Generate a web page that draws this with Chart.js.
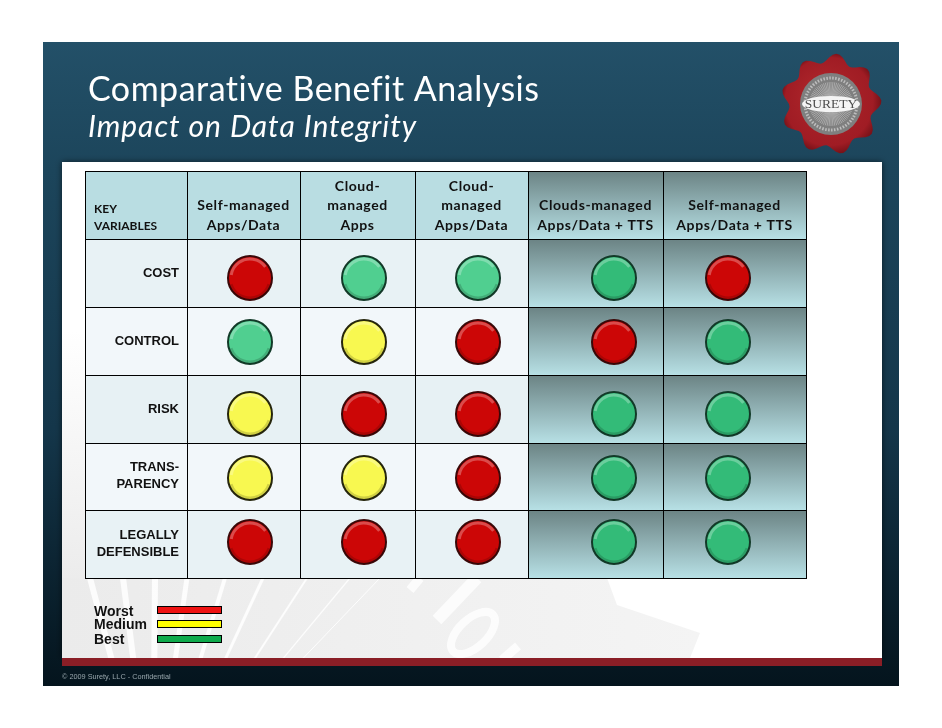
<!DOCTYPE html>
<html>
<head>
<meta charset="utf-8">
<title>Comparative Benefit Analysis</title>
<script src="https://cdn.jsdelivr.net/npm/chart.js@4/dist/chart.umd.js"></script>
<style>
  html, body { margin: 0; background: #fff; }
  canvas { display: block; }
</style>
</head>
<body>
<canvas id="chart" width="942" height="728"></canvas>
<script>
// Chart values
const columns = ["Self-managed Apps/Data", "Cloud-managed Apps", "Cloud-managed Apps/Data", "Clouds-managed Apps/Data + TTS", "Self-managed Apps/Data + TTS"];
const columnLines = [["Self-managed", "Apps/Data"], ["Cloud-", "managed", "Apps"], ["Cloud-", "managed", "Apps/Data"], ["Clouds-managed", "Apps/Data + TTS"], ["Self-managed", "Apps/Data + TTS"]];
const variables = ["COST", "CONTROL", "RISK", "TRANS-PARENCY", "LEGALLY DEFENSIBLE"];
const variableLines = [["COST"], ["CONTROL"], ["RISK"], ["TRANS-", "PARENCY"], ["LEGALLY", "DEFENSIBLE"]];
const levels = ["Worst", "Medium", "Best"];
const cost = ["Worst", "Best", "Best", "Best", "Worst"];
const control = ["Best", "Medium", "Worst", "Worst", "Best"];
const risk = ["Medium", "Worst", "Worst", "Best", "Best"];
const transparency = ["Medium", "Medium", "Worst", "Best", "Best"];
const legally = ["Worst", "Worst", "Worst", "Best", "Best"];
const ratings = [cost, control, risk, transparency, legally];

// Layout of the slide, in page pixels
const columnEdges = [85, 187, 300, 415, 528, 663, 806];
const rowEdges = [171, 239, 307, 375, 443, 510, 578];
const markPx = { x: [250, 364, 478, 614, 728], y: [278, 342, 414, 478, 542] };
const labelPx = { x: [243.5, 357.5, 471.5, 595.5, 734.5], y: [273, 341, 409, 476, 544] };
const rowTints = ["#b9dde2", "#e8f2f5", "#f2f7fa", "#e7f1f4", "#f2f7fa", "#e8f2f5"];
const markFill = { Worst: "#cc0606", Medium: "#f8f850", Best: "#50cf90" };
const markEdge = { Worst: "#3a0808", Medium: "#26260c", Best: "#123a28" };
const legendFill = { Worst: "#ee1111", Medium: "#ffff00", Best: "#0eaa4c" };
const legendRows = [{ text: 616, box: 606 }, { text: 629, box: 620 }, { text: 644, box: 635 }];

// Category scale whose columns and rows are not evenly spaced
class TableScale extends Chart.CategoryScale {
    getPixelForValue(value) {
        if (typeof value !== "number") value = this.parse(value);
        return markPx[this.axis][value];
    }
    getPixelForTick(index) {
        return labelPx[this.axis][index];
    }
    drawLabels(area) {
        // only the column headers are spaced out
        this.ctx.letterSpacing = this.axis === "x" ? "0.6px" : "0px";
        super.drawLabels(area);
        this.ctx.letterSpacing = "0px";
    }
}
TableScale.id = "table";
TableScale.defaults = {};
Chart.register(TableScale);

// One dataset for each level, with a point wherever a cell has that rating
function pointsFor(level) {
    const points = [];
    ratings.forEach((row, r) => row.forEach((rating, c) => {
        if (rating === level) points.push({ x: columns[c], y: variables[r] });
    }));
    return points;
}

function drawSlide(ctx) {
    const bg = ctx.createLinearGradient(0, 42, 0, 686);
    bg.addColorStop(0, "#235068");
    bg.addColorStop(0.2, "#1c455b");
    bg.addColorStop(0.6, "#14364a");
    bg.addColorStop(1, "#04141d");
    ctx.fillStyle = bg;
    ctx.fillRect(43, 42, 856, 644);

    // White panel with its shadow and the red band
    ctx.save();
    ctx.shadowColor = "rgba(0,0,0,0.6)";
    ctx.shadowBlur = 6;
    ctx.fillStyle = "#fff";
    ctx.fillRect(62, 162, 820, 496);
    ctx.restore();
    ctx.fillStyle = "#8a1e26";
    ctx.fillRect(62, 658, 820, 8);

    // Watermark in the lower left of the panel
    ctx.save();
    ctx.beginPath();
    ctx.rect(62, 162, 820, 496);
    ctx.clip();
    const wash = ctx.createLinearGradient(0, 330, 0, 578);
    wash.addColorStop(0, "#ffffff");
    wash.addColorStop(1, "#ececec");
    ctx.fillStyle = wash;
    ctx.fillRect(62, 330, 24, 250);
    const floor = ctx.createLinearGradient(62, 0, 700, 0);
    floor.addColorStop(0, "#ebebeb");
    floor.addColorStop(1, "#f4f4f4");
    ctx.fillStyle = floor;
    ctx.beginPath();
    ctx.moveTo(62, 578);
    ctx.lineTo(607, 578);
    ctx.lineTo(617, 605);
    ctx.lineTo(700, 633);
    ctx.lineTo(690, 658);
    ctx.lineTo(62, 658);
    ctx.closePath();
    ctx.fill();
    ctx.strokeStyle = "rgba(255,255,255,0.85)";
    [[90, 6], [123, 6], [155, 6], [187, 5], [225, 4], [263, 3], [307, 2], [350, 1.2], [380, 1]].forEach(([x, w]) => {
        ctx.lineWidth = w;
        ctx.beginPath();
        ctx.moveTo(x, 578);
        ctx.lineTo(153 + (x - 153) * 0.3, 815 - 237 * 0.3);
        ctx.stroke();
    });
    ctx.strokeStyle = "rgba(255,255,255,0.8)";
    ctx.lineWidth = 12;
    ctx.beginPath();
    ctx.moveTo(477, 578);
    ctx.lineTo(437, 620);
    ctx.stroke();
    ctx.lineWidth = 9;
    ctx.beginPath();
    ctx.moveTo(420, 578);
    ctx.lineTo(410, 590);
    ctx.stroke();
    ctx.beginPath();
    ctx.moveTo(518, 646);
    ctx.lineTo(502, 660);
    ctx.stroke();
    ctx.lineWidth = 8;
    ctx.beginPath();
    ctx.ellipse(473, 633, 27, 14, -0.75, 0, Math.PI * 2);
    ctx.stroke();
    ctx.restore();
}

function drawSeal(ctx) {
    const cx = 831, cy = 104;
    ctx.save();
    const wax = ctx.createRadialGradient(cx - 8, cy - 10, 20, cx, cy, 52);
    wax.addColorStop(0, "#a82228");
    wax.addColorStop(0.75, "#a01c24");
    wax.addColorStop(1, "#6e1016");
    ctx.fillStyle = wax;
    ctx.beginPath();
    for (let a = 0; a <= 360; a += 4) {
        const rad = a * Math.PI / 180;
        const r = 46 + 4.5 * Math.cos(rad * 9 + 0.5);
        const px = cx + r * Math.cos(rad), py = cy + r * Math.sin(rad);
        if (a === 0) ctx.moveTo(px, py); else ctx.lineTo(px, py);
    }
    ctx.closePath();
    ctx.fill();
    ctx.fillStyle = "#7f7f7f";
    ctx.beginPath();
    ctx.arc(cx, cy, 31, 0, Math.PI * 2);
    ctx.fill();
    ctx.strokeStyle = "#c4c4c4";
    ctx.lineWidth = 0.6;
    for (let a = 0; a < 360; a += 5) {
        const rad = a * Math.PI / 180;
        ctx.beginPath();
        ctx.moveTo(cx + 4 * Math.cos(rad), cy + 4 * Math.sin(rad));
        ctx.lineTo(cx + 22 * Math.cos(rad), cy + 22 * Math.sin(rad));
        ctx.stroke();
    }
    ctx.strokeStyle = "#bdbdbd";
    ctx.lineWidth = 3;
    ctx.setLineDash([1.5, 1.5]);
    ctx.beginPath();
    ctx.arc(cx, cy, 26, 0, Math.PI * 2);
    ctx.stroke();
    ctx.setLineDash([]);
    ctx.fillStyle = "#f4f4f4";
    ctx.beginPath();
    ctx.ellipse(cx, cy, 29, 8, 0, 0, Math.PI * 2);
    ctx.fill();
    ctx.fillStyle = "#4d4d4d";
    ctx.font = "13.5px 'Liberation Serif'";
    ctx.textAlign = "center";
    ctx.textBaseline = "middle";
    ctx.fillText("SURETY", cx, cy + 0.5);
    ctx.restore();
}

function drawTable(ctx) {
    for (let r = 0; r < rowEdges.length - 1; r++) {
        const y0 = rowEdges[r], y1 = rowEdges[r + 1];
        for (let c = 0; c < columnEdges.length - 1; c++) {
            const x0 = columnEdges[c], x1 = columnEdges[c + 1];
            if (c >= 4) {
                const shade = ctx.createLinearGradient(0, y0, 0, y1);
                shade.addColorStop(0, "#6b8384");
                shade.addColorStop(1, "#b7e0e5");
                ctx.fillStyle = shade;
            } else {
                ctx.fillStyle = rowTints[r];
            }
            ctx.fillRect(x0, y0, x1 - x0, y1 - y0);
        }
    }
    ctx.strokeStyle = "#000";
    ctx.lineWidth = 1;
    ctx.beginPath();
    columnEdges.forEach(x => { ctx.moveTo(x + 0.5, 171); ctx.lineTo(x + 0.5, 578.5); });
    rowEdges.forEach(y => { ctx.moveTo(85, y + 0.5); ctx.lineTo(807, y + 0.5); });
    ctx.stroke();
}

function drawTexts(ctx) {
    ctx.save();
    ctx.textBaseline = "alphabetic";
    ctx.textAlign = "left";
    ctx.fillStyle = "#fff";
    ctx.letterSpacing = "0.5px";
    ctx.font = "34px Lato";
    ctx.fillText("Comparative Benefit Analysis", 88, 101);
    ctx.letterSpacing = "0.95px";
    ctx.font = "italic 30px Lato";
    ctx.fillText("Impact on Data Integrity", 88, 137);
    ctx.letterSpacing = "0px";

    ctx.fillStyle = "#111";
    ctx.font = "bold 12px Lato";
    ctx.fillText("KEY", 94, 213);
    ctx.fillText("VARIABLES", 94, 230);

    ctx.fillStyle = "#98a6ac";
    ctx.font = "7.3px 'Liberation Sans'";
    ctx.fillText("© 2009 Surety, LLC - Confidential", 62, 679);

    // Legend: the text comes first and the colour bar after it
    levels.forEach((level, i) => {
        const row = legendRows[i];
        ctx.fillStyle = "#111";
        ctx.font = "bold 14px 'Liberation Sans'";
        ctx.fillText(level, 94, row.text);
        ctx.fillStyle = legendFill[level];
        ctx.fillRect(157.5, row.box + 0.5, 64, 7);
        ctx.strokeStyle = "#000";
        ctx.lineWidth = 1;
        ctx.strokeRect(157.5, row.box + 0.5, 64, 7);
    });
    ctx.restore();
}

const slidePlugin = {
    id: "slide",
    beforeDraw(chart) {
        const ctx = chart.ctx;
        drawSlide(ctx);
        drawSeal(ctx);
        drawTable(ctx);
        drawTexts(ctx);
    },
    afterDatasetsDraw(chart) {
        // Shine at the top of each button and shade along its lower edge
        const ctx = chart.ctx;
        chart.data.datasets.forEach((set, i) => {
            chart.getDatasetMeta(i).data.forEach(pt => {
                ctx.save();
                ctx.lineWidth = 3;
                ctx.strokeStyle = "rgba(255,255,255,0.28)";
                ctx.beginPath();
                ctx.arc(pt.x, pt.y, 19, Math.PI * 1.05, Math.PI * 1.8);
                ctx.stroke();
                ctx.strokeStyle = "rgba(0,0,0,0.16)";
                ctx.beginPath();
                ctx.arc(pt.x, pt.y, 20, Math.PI * 0.1, Math.PI * 0.9);
                ctx.stroke();
                ctx.restore();
            });
        });
    }
};

function tableAxis(position, size, padding, font, lines, names) {
    return {
        type: "table",
        position: position,
        labels: names,
        offset: false,
        border: { display: false },
        grid: { display: false, tickLength: 0 },
        ticks: {
            autoSkip: false,
            maxRotation: 0,
            minRotation: 0,
            padding: padding,
            color: "#111",
            font: font,
            callback: (value, index) => lines[index]
        },
        afterFit(scale) {
            if (scale.isHorizontal()) scale.height = size; else scale.width = size;
            scale.paddingLeft = scale.paddingRight = scale.paddingTop = scale.paddingBottom = 0;
        }
    };
}

new Chart(document.getElementById("chart"), {
    type: "scatter",
    plugins: [slidePlugin],
    data: {
        datasets: levels.map(level => ({
            label: level,
            data: pointsFor(level),
            showLine: false,
            pointRadius: 22,
            pointBorderWidth: 2,
            clip: false,
            // the two right-hand columns use a deeper green
            pointBackgroundColor: c => level === "Best" && c.parsed && c.parsed.x >= 3 ? "#33bb78" : markFill[level],
            pointBorderColor: markEdge[level]
        }))
    },
    options: {
        responsive: false,
        animation: false,
        events: [],
        layout: { padding: { top: 0, left: 0, right: 136, bottom: 150 } },
        plugins: { legend: { display: false }, tooltip: { enabled: false }, title: { display: false } },
        scales: {
            x: tableAxis("top", 239, 4, { family: "Lato", size: 14, weight: "bold", lineHeight: 1.39 }, columnLines, columns),
            y: tableAxis("left", 187, 8, { family: "'Liberation Sans'", size: 13, weight: "bold", lineHeight: 1.25 }, variableLines, variables)
        }
    }
});
</script>
</body>
</html>
